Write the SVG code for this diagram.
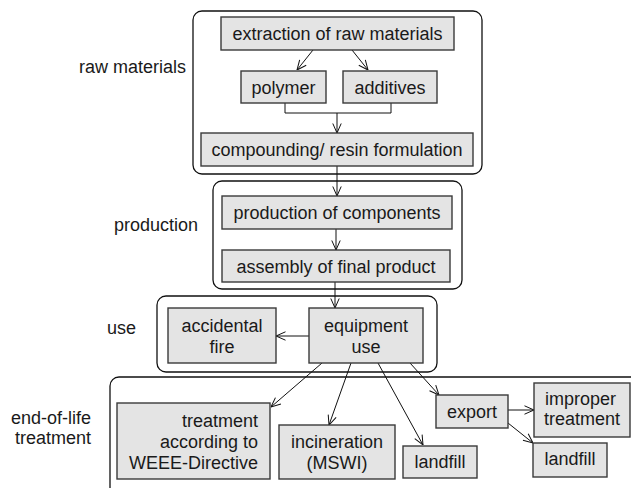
<svg xmlns="http://www.w3.org/2000/svg" width="631" height="488" viewBox="0 0 631 488">
<defs>
<style>
text{font-family:"Liberation Sans",Arial,sans-serif;font-size:18px;fill:#1a1a1a}
.grp{fill:none;stroke:#111;stroke-width:1.3}
.box{fill:#e4e4e4;stroke:#3a3a3a;stroke-width:1.4}
.c{text-anchor:middle}
.r{text-anchor:end}
.edge{fill:none;stroke:#111;stroke-width:1}
.arr{marker-end:url(#ah)}
</style>
<marker id="ah" viewBox="0 0 10 10" refX="10" refY="5" markerWidth="10" markerHeight="10" markerUnits="userSpaceOnUse" orient="auto">
<path d="M0.5,0.8 L10,5 L0.5,9.2" fill="none" stroke="#111" stroke-width="1"/>
</marker>
</defs>
<rect width="631" height="488" fill="#fff"/>

<g id="groups">
<g id="grp-raw"><rect class="grp" x="193" y="11" width="289" height="163" rx="9"/><text class="r" x="186" y="73">raw materials</text></g>
<g id="grp-production"><rect class="grp" x="213" y="181" width="249" height="108" rx="9"/><text class="r" x="198" y="231">production</text></g>
<g id="grp-use"><rect class="grp" x="157" y="296" width="280" height="76" rx="9"/><text class="r" x="136" y="334">use</text></g>
<g id="grp-eol"><rect class="grp" x="110" y="377" width="560" height="140" rx="9"/><text class="r" x="91" y="424">end-of-life</text><text class="r" x="91" y="444">treatment</text></g>
</g>

<g id="connectors">
<path class="edge arr" d="M313,50 L297,70"/>
<path class="edge arr" d="M352,50 L368,70"/>
<path class="edge" d="M285,103 V113 H391 V103"/>
<path class="edge arr" d="M337,113 V133"/>
<path class="edge arr" d="M337,166 V196"/>
<path class="edge arr" d="M336,229 V250"/>
<path class="edge arr" d="M335,282 V308"/>
<path class="edge arr" d="M309,336 H276"/>
<path class="edge arr" d="M322,363 L271,407"/>
<path class="edge arr" d="M351,363 L329,425"/>
<path class="edge arr" d="M378,363 L423,445"/>
<path class="edge arr" d="M410,363 L439,395"/>
<path class="edge arr" d="M508,410 H534"/>
<path class="edge arr" d="M508,423 L533,443"/>
</g>

<g id="n-extraction"><rect class="box" x="221" y="17" width="233" height="33"/><text class="c" x="337.5" y="40">extraction of raw materials</text></g>
<g id="n-polymer"><rect class="box" x="241" y="71" width="85" height="32"/><text class="c" x="283.5" y="93.5">polymer</text></g>
<g id="n-additives"><rect class="box" x="343" y="71" width="94" height="32"/><text class="c" x="390" y="93.5">additives</text></g>
<g id="n-compounding"><rect class="box" x="201" y="133" width="272" height="33"/><text class="c" x="337" y="156">compounding/ resin formulation</text></g>
<g id="n-components"><rect class="box" x="222" y="196" width="230" height="33"/><text class="c" x="337" y="219">production of components</text></g>
<g id="n-assembly"><rect class="box" x="222" y="250" width="228" height="32"/><text class="c" x="336" y="272.5">assembly of final product</text></g>
<g id="n-fire"><rect class="box" x="168" y="308" width="108" height="55"/><text class="c" x="222" y="331.5">accidental</text><text class="c" x="222" y="353">fire</text></g>
<g id="n-equipment"><rect class="box" x="309" y="308" width="114" height="55"/><text class="c" x="366" y="331.5">equipment</text><text class="c" x="366" y="353">use</text></g>
<g id="n-weee"><rect class="box" x="117" y="403" width="153" height="76"/><text class="r" x="258" y="426.5">treatment</text><text class="r" x="258" y="448">according to</text><text class="r" x="258" y="469">WEEE-Directive</text></g>
<g id="n-incineration"><rect class="box" x="279" y="425" width="116" height="54"/><text class="c" x="337" y="448">incineration</text><text class="c" x="337" y="469">(MSWI)</text></g>
<g id="n-landfill1"><rect class="box" x="403" y="446" width="74" height="32"/><text class="c" x="440" y="468">landfill</text></g>
<g id="n-export"><rect class="box" x="436" y="395" width="72" height="33"/><text class="c" x="472" y="418">export</text></g>
<g id="n-improper"><rect class="box" x="534" y="383" width="96" height="54"/><text x="545" y="405">improper</text><text x="544" y="425">treatment</text></g>
<g id="n-landfill2"><rect class="box" x="533" y="443" width="74" height="34"/><text class="c" x="570" y="465">landfill</text></g>
</svg>
